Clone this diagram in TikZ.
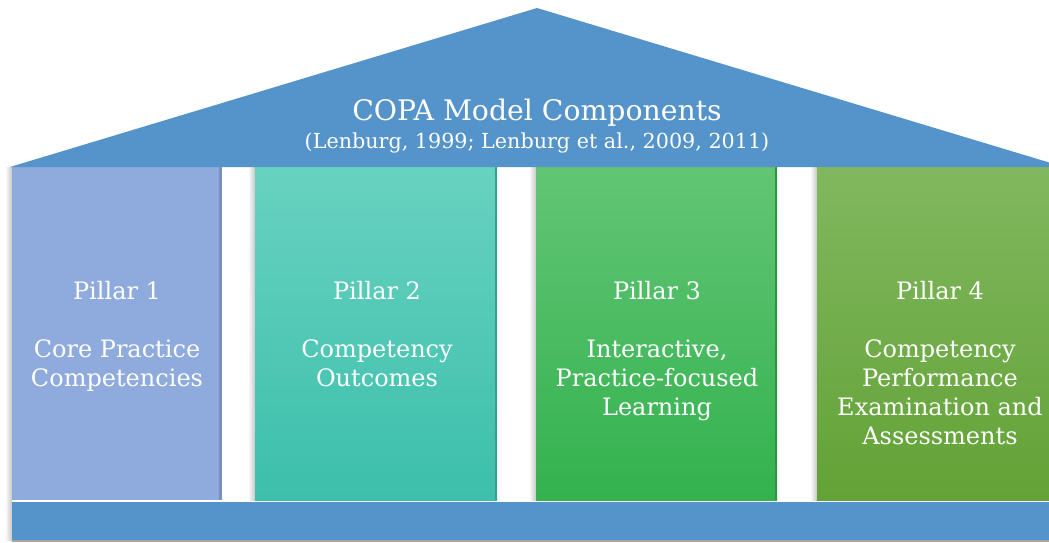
\documentclass[tikz,border=0pt]{standalone}
\usepackage{fontspec}
\setmainfont{DejaVu Serif}
\definecolor{roofblue}{HTML}{5593CB}
\definecolor{pOne}{HTML}{8FAADC}
\definecolor{pOneEdge}{HTML}{7790C0}
\definecolor{pTwoTop}{HTML}{68D2C0}
\definecolor{pTwoBot}{HTML}{3CBFAC}
\definecolor{pTwoEdge}{HTML}{3A9E8E}
\definecolor{pThreeTop}{HTML}{62C575}
\definecolor{pThreeBot}{HTML}{33B24E}
\definecolor{pThreeEdge}{HTML}{2E9444}
\definecolor{pFourTop}{HTML}{81B85F}
\definecolor{pFourBot}{HTML}{62A236}
\begin{document}
\begin{tikzpicture}[x=1pt,y=-1pt,
  pillar/.style={inner sep=0pt, outer sep=0pt, anchor=north west, minimum height=333pt},
  ptext/.style={text=white, align=center, anchor=north, font=\fontsize{24}{29}\selectfont, inner sep=0pt},
  shade/.style={left color=white, right color=black!22, draw=none}]
\useasboundingbox (0,0) rectangle (1049,542);
\fill[white] (0,0) rectangle (1049,542);
\begin{scope}
\clip (0,0) rectangle (1049,542);
% shadows
\shade[shade] (5,167) rectangle (12,540);
\shade[shade] (248,167) rectangle (255,500);
\shade[shade] (529,167) rectangle (536,500);
\shade[shade] (810,167) rectangle (817,500);
% pillars
\node[pillar, fill=pOne, minimum width=210pt] (p1) at (12,167) {};
\node[pillar, top color=pTwoTop, bottom color=pTwoBot, minimum width=242pt] (p2) at (255,167) {};
\node[pillar, top color=pThreeTop, bottom color=pThreeBot, minimum width=241pt] (p3) at (536,167) {};
\node[pillar, top color=pFourTop, bottom color=pFourBot, minimum width=240pt] (p4) at (817,167) {};
\fill[pOneEdge] ([xshift=-3pt]p1.north east) rectangle (p1.south east);
\fill[pTwoEdge] ([xshift=-2pt]p2.north east) rectangle (p2.south east);
\fill[pThreeEdge] ([xshift=-2pt]p3.north east) rectangle (p3.south east);
% roof
\fill[roofblue] (10,167) -- (537,8) -- (1064,167) -- cycle;
\node[inner sep=0pt, text=white, font=\fontsize{28.3}{30}\selectfont] (title) at (537,113) {COPA Model Components};
\node[inner sep=0pt, text=white, font=\fontsize{20.7}{22}\selectfont] (cite) at (537,143) {(Lenburg, 1999; Lenburg et al., 2009, 2011)};
% base
\node[inner sep=0pt, outer sep=0pt, anchor=north west, fill=roofblue, minimum width=1040pt, minimum height=38pt] (base) at (12,502) {};
\fill[black!35] (12,540) rectangle (1049,542);
% texts
\node[ptext] (t1) at (117,281) {Pillar 1\\[29pt]Core Practice\\Competencies};
\node[ptext] (t2) at (377,281) {Pillar 2\\[29pt]Competency\\Outcomes};
\node[ptext] (t3) at (657,281) {Pillar 3\\[29pt]Interactive,\\Practice-focused\\Learning};
\node[ptext] (t4) at (940,281) {Pillar 4\\[29pt]Competency\\Performance\\Examination and\\Assessments};
\end{scope}
\end{tikzpicture}
\end{document}
